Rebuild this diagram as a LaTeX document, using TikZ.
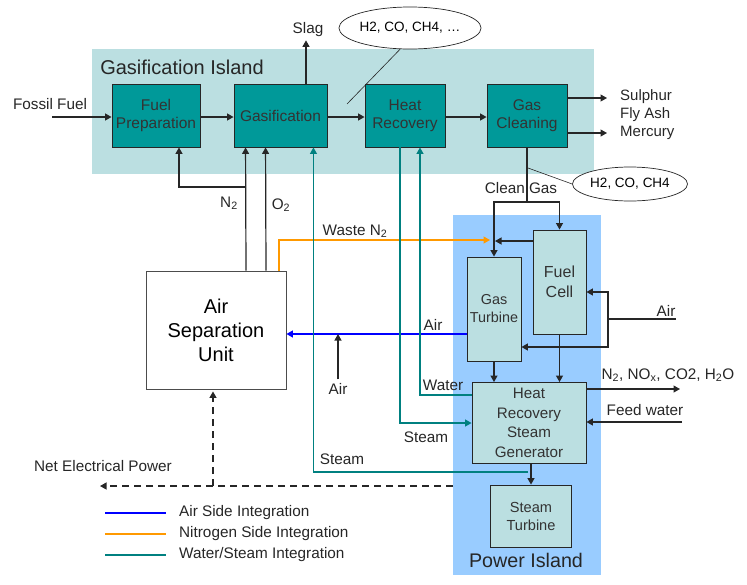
\documentclass[tikz,border=0pt]{standalone}
\usepackage{fontspec}
\setmainfont{Liberation Sans}
\usetikzlibrary{arrows.meta,positioning,calc,shapes.geometric}

\definecolor{islandbg}{HTML}{BBDFE1}
\definecolor{powerbg}{HTML}{99CCFF}
\definecolor{tealbox}{HTML}{009999}
\definecolor{lightbox}{HTML}{BBDFE1}
\definecolor{steamc}{HTML}{008080}
\definecolor{wastec}{HTML}{FF9900}
\definecolor{airc}{HTML}{0000FF}
\definecolor{boxtxt}{HTML}{333333}

\tikzset{
    unitbox/.style={draw=black!85,line width=0.9pt,fill=tealbox,text=boxtxt,align=center,
        font=\fontsize{15.5}{18}\selectfont,inner sep=1pt},
    pwrbox/.style={draw=black!85,line width=0.9pt,fill=lightbox,text=boxtxt,align=center,
        font=\fontsize{15.5}{19}\selectfont,inner sep=1pt},
    lbl/.style={font=\fontsize{15.3}{18}\selectfont,text=black!85,inner sep=1pt},
    flow/.style={line width=1.2pt,black!85},
    steam/.style={line width=1.2pt,steamc},
    waste/.style={line width=1.2pt,wastec},
    airint/.style={line width=1.2pt,airc},
    callout/.style={ellipse,draw=black!85,line width=0.7pt,fill=white,inner sep=0pt,
        font=\fontsize{13.5}{16}\selectfont}
}

\begin{document}
\begin{tikzpicture}[x=1pt,y=-1pt,>={Triangle[length=6.5pt,width=7pt]}]
    \useasboundingbox (0,0) rectangle (747,584);

    % Islands
    \fill[islandbg] (92,49) rectangle (594,174);
    \fill[powerbg] (453,215) rectangle (601,575);
    \node[font=\fontsize{20}{23}\selectfont,text=black!85] (gistitle) at (182,67) {Gasification Island};
    \node[font=\fontsize{19.7}{23}\selectfont,text=black!85] (pistitle) at (526,560) {Power Island};

    % Gasification island units
    \node[unitbox,minimum width=88,minimum height=63] (fprep) at (156,115.5) {Fuel\\Preparation};
    \node[unitbox,minimum width=93,minimum height=63] (gasif) at (280.5,115.5) {Gasification};
    \node[unitbox,minimum width=80,minimum height=63] (hrec) at (405,115.5) {Heat\\Recovery};
    \node[unitbox,minimum width=80,minimum height=63] (gclean) at (527,115.5) {Gas\\Cleaning};

    % Power island units
    \node[pwrbox,minimum width=53,minimum height=104,font=\fontsize{16}{20}\selectfont] (fcell) at (559.5,282) {Fuel\\Cell};
    \node[pwrbox,minimum width=54,minimum height=104,font=\fontsize{14.4}{18}\selectfont] (gturb) at (494,309) {Gas\\Turbine};
    \node[pwrbox,minimum width=114,minimum height=81,font=\fontsize{15.2}{19.5}\selectfont] (hrsg) at (529,423) {Heat\\Recovery\\Steam\\Generator};
    \node[pwrbox,minimum width=81,minimum height=62,font=\fontsize{14.6}{18}\selectfont] (sturb) at (531,516) {Steam\\Turbine};

    % Air separation
    \node[draw=black!70,line width=0.9pt,fill=white,align=center,minimum width=140,minimum height=118,
        font=\fontsize{20}{24}\selectfont] (asu) at (216,330) {Air\\Separation\\Unit};

    % Gas path
    \coordinate (ffin) at (52,117);
    \node[lbl] (ffuel) at (50,104) {Fossil Fuel};
    \draw[flow,->] (ffin) -- (ffin -| fprep.west);
    \draw[flow,->] (fprep.east |- ffin) -- (ffin -| gasif.west);
    \draw[flow,->] (gasif.east |- ffin) -- (ffin -| hrec.west);
    \draw[flow,->] (hrec.east |- ffin) -- (ffin -| gclean.west);

    \node[lbl] (slag) at (308,30) {Slag};
    \draw[flow,->] ($(gasif.north)+(25.5,0)$) -- ($(slag.south)+(-2,2)$);

    \coordinate (sulend) at (607,98);
    \coordinate (merend) at (607,133);
    \draw[flow,->] (gclean.east |- sulend) -- (sulend);
    \draw[flow,->] (gclean.east |- merend) -- (merend);
    \node[lbl,anchor=west,align=left,font=\fontsize{15}{18}\selectfont] (waste) at (619,115) {Sulphur\\Fly Ash\\Mercury};

    % Callouts
    \node[callout,minimum width=114,minimum height=42] (rawgas) at (410,28) {H2, CO, CH4, \dots};
    \coordinate (rawpt) at (347,104);
    \draw[black!85,line width=0.6pt] (rawpt) -- (rawgas.245);
    \node[callout,minimum width=115,minimum height=34] (cleangas) at (630,184) {H2, CO, CH4};
    \coordinate (cleanpt) at (528,168);
    \draw[black!85,line width=0.6pt] (cleanpt) -- (cleangas.west);

    % Clean gas to power island
    \coordinate (cgsplit) at (527,202);
    \node[lbl] (cglbl) at (521,188) {Clean Gas};
    \draw[flow] (gclean.south) -- (cgsplit);
    \draw[flow,->] (cgsplit) -| (gturb.north);
    \draw[flow,->] (cgsplit) -| (fcell.north);
    \coordinate (gtin) at (494,241);
    \draw[flow,->] (fcell.west |- gtin) -- ($(gtin)+(1,0)$);

    % Oxygen and nitrogen
    \coordinate (n2split) at (246,187);
    \draw[flow,->] ($(asu.north)+(30,0)$) -- ($(gasif.south west)+(12,0)$);
    \draw[flow,->] (n2split) -| ($(fprep.south)+(23,0)$);
    \draw[flow,->] ($(asu.north)+(50,0)$) -- ($(gasif.south west)+(32,0)$);
    \node[lbl] (n2lbl) at (229,203) {N\textsubscript{2}};
    \node[lbl] (o2lbl) at (281,205) {O\textsubscript{2}};

    % Waste nitrogen
    \draw[waste,->] ($(asu.north)+(63,0)$) |- ($(gtin)+(-4,-1)$);
    \node[lbl] (wastelbl) at (355,231) {Waste N\textsubscript{2}};

    % Air
    \draw[airint,->] ($(gturb.west)+(0,25)$) -- ($(asu.east)+(0,4)$);
    \node[lbl] (airblue) at (433,325) {Air};
    \node[lbl] (airlow) at (338,389) {Air};
    \coordinate (airjoin) at (338,334);
    \draw[flow,->] ($(airlow.north)+(0,-3)$) -- (airjoin);
    \coordinate (airin) at (676,319);
    \coordinate (airsplit) at (608,319);
    \node[lbl] (airright) at (666,311) {Air};
    \draw[flow] (airin) -- (airsplit);
    \draw[flow,->] (airsplit) |- ($(fcell.east)+(0,10)$);
    \draw[flow,->] (airsplit) |- ($(gturb.east)+(0,38)$);

    % Steam and water
    \draw[flow,->] (gturb.south) -- (gturb.south |- hrsg.north);
    \draw[flow,->] (fcell.south) -- (fcell.south |- hrsg.north);
    \draw[flow,->] (hrsg.south -| sturb.north) -- (sturb.north);
    \draw[steam,->] ($(hrsg.north west)+(0,13)$) -| ($(hrec.south)+(15,0)$);
    \draw[steam,->] ($(hrec.south)+(-5,0)$) |- (hrsg.west);
    \coordinate (stmtap) at (528,472);
    \draw[steam,->] (stmtap) -| ($(gasif.south east)+(-14,0)$);
    \node[lbl] (waterlbl) at (443,385) {Water};
    \node[lbl] (steamin) at (426,437) {Steam};
    \node[lbl] (steamout) at (342,459) {Steam};

    % HRSG exhaust and feed water
    \coordinate (exhend) at (680,389);
    \draw[flow,->] (hrsg.east |- exhend) -- (exhend);
    \node[lbl] (exhlbl) at (668,375) {N\textsubscript{2}, NO\textsubscript{x}, CO2, H\textsubscript{2}O};
    \coordinate (fwin) at (682,422);
    \draw[flow,->] (fwin) -- (hrsg.east |- fwin);
    \node[lbl] (fwlbl) at (645,410) {Feed water};

    % Electrical power
    \coordinate (pwrsrc) at (453,486);
    \coordinate (pwrend) at (100,486);
    \coordinate (asupwr) at ($(asu.south)+(-3,0)$);
    \draw[flow,dash pattern=on 7pt off 5pt,->] (pwrsrc) -- (pwrend);
    \draw[flow,dash pattern=on 7pt off 5pt,->] (asupwr |- pwrsrc) -- ($(asupwr)+(0,2)$);
    \node[lbl] (netpwr) at (103,466) {Net Electrical Power};

    % Legend
    \foreach \c/\t [count=\i] in {airc/{Air Side Integration},wastec/{Nitrogen Side Integration},steamc/{Water/Steam Integration}}{
        \draw[line width=1.2pt,\c] (105,492+21*\i) -- (166,492+21*\i);
        \node[lbl,anchor=west] (leg\i) at (178,492+21*\i) {\t};
    }
\end{tikzpicture}
\end{document}
